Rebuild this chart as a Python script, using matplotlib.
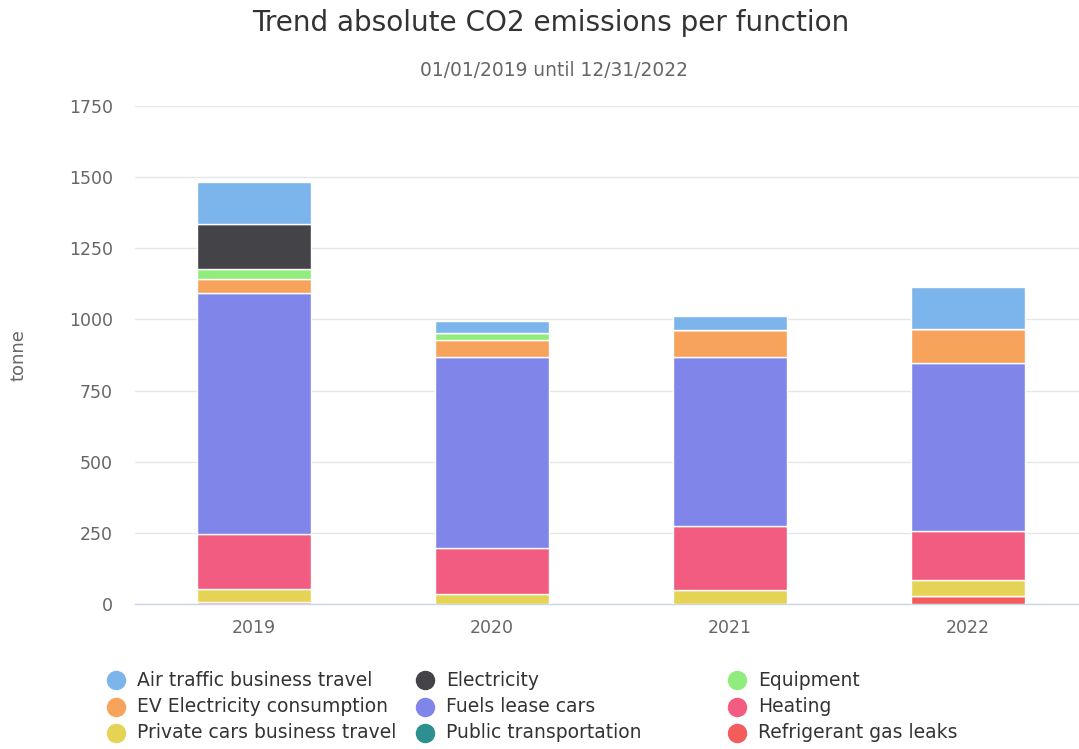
import matplotlib
matplotlib.use("Agg")
import matplotlib.pyplot as plt
from matplotlib.lines import Line2D
import numpy as np

plt.rcParams["font.family"] = ["DejaVu Sans"]

years = ["2019", "2020", "2021", "2022"]
# stacking order bottom -> top
series_names = ["Refrigerant gas leaks", "Public transportation", "Private cars business travel",
                "Heating", "Fuels lease cars", "EV Electricity consumption", "Equipment",
                "Electricity", "Air traffic business travel"]
refrigerant = [6, 0, 0, 29]
public_transport = [0, 0, 0, 0]
private_cars = [46, 35, 48, 55]
heating = [193, 161, 226, 171]
fuels = [849, 672, 594, 592]
ev_electricity = [48, 60, 95, 121]
equipment = [34, 23, 0, 0]
electricity = [159, 0, 0, 0]
air_traffic = [148, 44, 50, 147]

colors = {
    "Air traffic business travel": "#7cb5ec",
    "Electricity": "#434348",
    "Equipment": "#90ed7d",
    "EV Electricity consumption": "#f7a35c",
    "Fuels lease cars": "#8085e9",
    "Heating": "#f15c80",
    "Private cars business travel": "#e4d354",
    "Public transportation": "#2b908f",
    "Refrigerant gas leaks": "#f45b5b",
}
values = [refrigerant, public_transport, private_cars, heating, fuels,
          ev_electricity, equipment, electricity, air_traffic]

fig = plt.figure(figsize=(10.79, 7.49), dpi=100)
W, H = 1079, 749
ax = fig.add_axes([135 / W, 1 - 604 / H, (1087 - 135) / W, (604 - 106) / H])

x = np.arange(len(years))
bottom = np.zeros(len(years))
for name, vals in zip(series_names, values):
    v = np.array(vals, dtype=float)
    ax.bar(x, v, bottom=bottom, width=0.48, color=colors[name],
           edgecolor="white", linewidth=1.0, zorder=3)
    bottom += v

ax.set_xlim(-0.5, 3.5)
ax.set_ylim(0, 1750)
ax.set_yticks(np.arange(0, 1751, 250))
ax.set_xticks(x)
ax.set_xticklabels(years)
ax.tick_params(axis="both", length=0, labelsize=12.5, colors="#666666")
ax.tick_params(axis="x", pad=11)
ax.tick_params(axis="y", pad=16)
ax.grid(axis="y", color="#e6e6e6", linewidth=1, zorder=0)
for s in ["top", "right", "left"]:
    ax.spines[s].set_visible(False)
ax.spines["bottom"].set_color("#ccd6eb")
ax.spines["bottom"].set_linewidth(1)

fig.text(18 / W, 1 - 355 / H, "tonne", rotation=90, ha="center", va="center",
         fontsize=13, color="#666666")

fig.text(551 / W, 1 - 23 / H, "Trend absolute CO2 emissions per function",
         ha="center", va="center", fontsize=20.1, color="#333333")
fig.text(554 / W, 1 - 70 / H, "01/01/2019 until 12/31/2022",
         ha="center", va="center", fontsize=13.4, color="#666666")

legend_cols = [
    ["Air traffic business travel", "EV Electricity consumption", "Private cars business travel"],
    ["Electricity", "Fuels lease cars", "Public transportation"],
    ["Equipment", "Heating", "Refrigerant gas leaks"],
]
col_x = [116, 425, 737]
row_y = [680, 707, 733]
for cx, names in zip(col_x, legend_cols):
    for ry, name in zip(row_y, names):
        fig.lines.append(Line2D([cx / W], [1 - ry / H], marker="o", markersize=13,
                                color=colors[name], linestyle="none",
                                transform=fig.transFigure))
        fig.text((cx + 21) / W, 1 - ry / H, name, ha="left", va="center",
                 fontsize=13.5, color="#333333")

fig.savefig("out.png", dpi=100, facecolor="white")
